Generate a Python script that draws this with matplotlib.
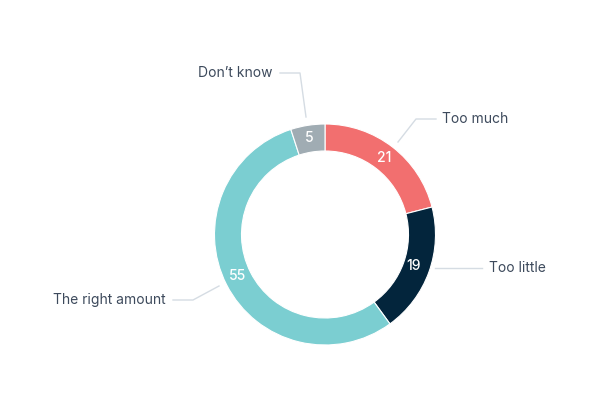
import matplotlib
matplotlib.use("Agg")
import matplotlib.pyplot as plt

# data
categories = ["Too much", "Too little", "The right amount", "Don\u2019t know"]
values = [21, 19, 55, 5]
colors = ["#F26F6F", "#03253C", "#7BCED1", "#A0ACB3"]

plt.rcParams['font.family'] = ['Inter', 'DejaVu Sans']

fig = plt.figure(figsize=(6, 4), dpi=100)
ax = fig.add_axes([0, 0, 1, 1])
ax.set_xlim(0, 600)
ax.set_ylim(0, 400)
ax.set_aspect('equal')
ax.axis('off')

cx, cy, r = 325, 165.5, 110.5
width = 27
wedges, _ = ax.pie(values, colors=colors, startangle=90, counterclock=False,
                   radius=r, center=(cx, cy),
                   wedgeprops=dict(width=width, edgecolor='white', linewidth=0.8))
ax.set_xlim(0, 600)
ax.set_ylim(0, 400)

# value labels inside the ring
value_pos = [(384, 242), (414, 134), (238, 124), (309, 262)]
for v, (x, y) in zip(values, value_pos):
    ax.text(x, y, str(v), color='white', fontsize=10, fontweight='medium',
            ha='center', va='center')

# leader lines + category labels
line_col = "#D5DCE3"
txt_col = "#3D4A5C"
leaders = [
    [(398, 258), (416, 281), (436, 281)],
    [(435, 132), (482, 132)],
    [(219, 114), (193, 100), (173, 100)],
    [(306, 283), (300, 327), (280, 327)],
]
label_pos = [(442, 281, 'left'), (489, 132, 'left'), (166, 100, 'right'), (273, 327, 'right')]
for cat, pts, (x, y, ha) in zip(categories, leaders, label_pos):
    xs = [p[0] for p in pts]
    ys = [p[1] for p in pts]
    ax.plot(xs, ys, color=line_col, lw=1)
    ax.text(x, y, cat, color=txt_col, fontsize=10, ha=ha, va='center')

fig.savefig("out.png", dpi=100)
